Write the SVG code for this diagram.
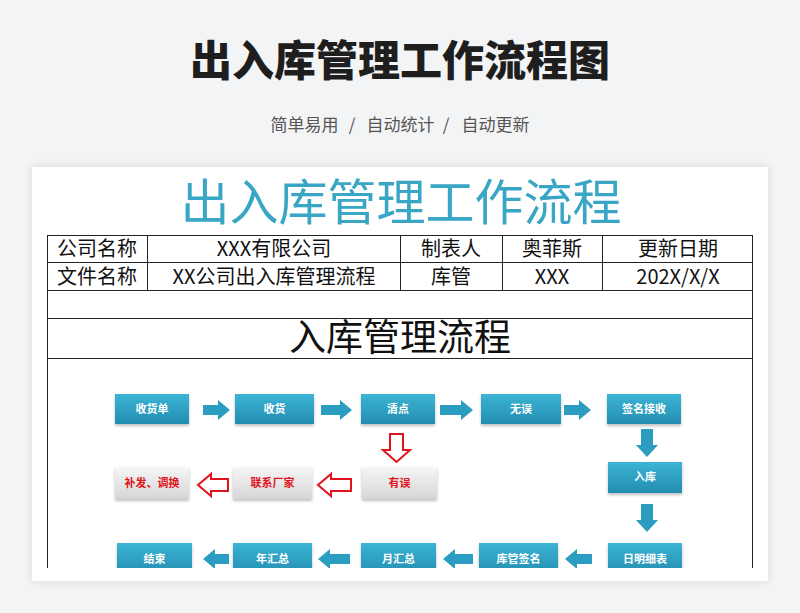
<svg xmlns="http://www.w3.org/2000/svg" width="800" height="613" viewBox="0 0 800 613">
<defs>
<style>
.cjk{font-family:"Noto Sans CJK SC","Noto Sans",sans-serif}
.cell{font-size:20px;fill:#111;text-anchor:middle}
.sub{font-size:17px;fill:#555;text-anchor:middle}
.bt{font-size:11px;font-weight:700;fill:#fff;text-anchor:middle}
.rt{font-size:11px;font-weight:700;fill:#e0141c;text-anchor:middle}
.blue{fill:url(#gb);filter:url(#sh)}
.gray{fill:url(#gg);filter:url(#sh)}
.ba{fill:#2a9dc0}
.ra{fill:#fff;stroke:#e0141c;stroke-width:2;stroke-linejoin:miter}
.tl{stroke:#222;stroke-width:1;fill:none}
</style>
<linearGradient id="gb" x1="0" y1="0" x2="0" y2="1">
<stop offset="0" stop-color="#3cb4d4"/>
<stop offset="1" stop-color="#238db0"/>
</linearGradient>
<linearGradient id="gg" x1="0" y1="0" x2="0" y2="1">
<stop offset="0" stop-color="#f6f6f6"/>
<stop offset="1" stop-color="#d6d6d6"/>
</linearGradient>
<filter id="sh" x="-10%" y="-20%" width="120%" height="150%">
<feDropShadow dx="0" dy="2" stdDeviation="1.5" flood-color="#000" flood-opacity="0.25"/>
</filter>
<filter id="cs" x="-5%" y="-5%" width="110%" height="110%">
<feDropShadow dx="0" dy="0" stdDeviation="5" flood-color="#000" flood-opacity="0.12"/>
</filter>
<clipPath id="cc"><rect x="32" y="167" width="736" height="401"/></clipPath>
</defs>
<rect width="800" height="613" fill="#f3f4f6"/>
<text class="cjk" x="400" y="76" font-size="42" font-weight="900" fill="#1e1e1e" text-anchor="middle">出入库管理工作流程图</text>
<g class="cjk sub">
<text x="304.5" y="131">简单易用</text>
<text x="352" y="131">/</text>
<text x="400.5" y="131">自动统计</text>
<text x="446" y="131">/</text>
<text x="495.5" y="131">自动更新</text>
</g>
<rect x="32" y="167" width="736" height="414" fill="#fff" filter="url(#cs)"/>
<text class="cjk" x="401" y="220" font-size="49" fill="#38a6c4" text-anchor="middle">出入库管理工作流程</text>
<g id="table" clip-path="url(#cc)">
<path class="tl" d="M47.5 235.5H752.5M47.5 262.5H752.5M47.5 290.5H752.5M47.5 318.5H752.5M47.5 358.5H752.5M47.5 235V600M752.5 235V600M147.5 235V290M400.5 235V290M502.5 235V290M602.5 235V290"/>
<g class="cjk cell">
<text x="97" y="256">公司名称</text>
<text x="274" y="256">XXX有限公司</text>
<text x="451" y="256">制表人</text>
<text x="552" y="256">奥菲斯</text>
<text x="678" y="256">更新日期</text>
<text x="97" y="284">文件名称</text>
<text x="274" y="284">XX公司出入库管理流程</text>
<text x="451" y="284">库管</text>
<text x="552" y="284">XXX</text>
<text x="678" y="284">202X/X/X</text>
</g>
<text class="cjk" x="400" y="351" font-size="37" fill="#111" text-anchor="middle">入库管理流程</text>
</g>
<g clip-path="url(#cc)">
<g id="connectors">
<polygon class="ba" points="203,405 218,405 218,400 230,410 218,420 218,415 203,415"/>
<polygon class="ba" points="321,405 340,405 340,400 352,410 340,420 340,415 321,415"/>
<polygon class="ba" points="440,405 461,405 461,400 473,410 461,420 461,415 440,415"/>
<polygon class="ba" points="564,405 579,405 579,400 591,410 579,420 579,415 564,415"/>
<polygon class="ba" points="641,429 653,429 653,445 658,445 647,457 636,445 641,445"/>
<polygon class="ba" points="641,504 653,504 653,520 658,520 647,532 636,520 641,520"/>
<polygon class="ba" points="592,554 577,554 577,549 565,559 577,569 577,564 592,564"/>
<polygon class="ba" points="473,554 455,554 455,549 443,559 455,569 455,564 473,564"/>
<polygon class="ba" points="350,554 330,554 330,549 318,559 330,569 330,564 350,564"/>
<polygon class="ba" points="229,554 215,554 215,549 203,559 215,569 215,564 229,564"/>
<polygon class="ra" points="390,434 403,434 403,450 410,450 396.5,462 383,450 390,450"/>
<polygon class="ra" points="351,479 331,479 331,474 318,485 331,496 331,491 351,491"/>
<polygon class="ra" points="228,479 211,479 211,474 198,485 211,496 211,491 228,491"/>
</g>
<g id="n1"><rect class="blue" x="115" y="394" width="74" height="30"/><text class="cjk bt" x="152" y="413">收货单</text></g>
<g id="n2"><rect class="blue" x="235" y="394" width="79" height="30"/><text class="cjk bt" x="274.5" y="413">收货</text></g>
<g id="n3"><rect class="blue" x="361" y="394" width="74" height="30"/><text class="cjk bt" x="398" y="413">清点</text></g>
<g id="n4"><rect class="blue" x="481" y="394" width="80" height="30"/><text class="cjk bt" x="521" y="413">无误</text></g>
<g id="n5"><rect class="blue" x="607" y="394" width="74" height="30"/><text class="cjk bt" x="644" y="413">签名接收</text></g>
<g id="n6"><rect class="blue" x="608" y="462" width="74" height="31"/><text class="cjk bt" x="645" y="481">入库</text></g>
<g id="n7"><rect class="blue" x="608" y="543" width="74" height="32"/><text class="cjk bt" x="645" y="563">日明细表</text></g>
<g id="n8"><rect class="blue" x="479" y="543" width="79" height="32"/><text class="cjk bt" x="518.5" y="563">库管签名</text></g>
<g id="n9"><rect class="blue" x="361" y="543" width="75" height="32"/><text class="cjk bt" x="398.5" y="563">月汇总</text></g>
<g id="n10"><rect class="blue" x="233" y="543" width="79" height="32"/><text class="cjk bt" x="272.5" y="563">年汇总</text></g>
<g id="n11"><rect class="blue" x="117" y="543" width="75" height="32"/><text class="cjk bt" x="154.5" y="563">结束</text></g>
<g id="n12"><rect class="gray" x="362" y="467" width="75" height="32"/><text class="cjk rt" x="399.5" y="487">有误</text></g>
<g id="n13"><rect class="gray" x="233" y="467" width="79" height="32"/><text class="cjk rt" x="272.5" y="487">联系厂家</text></g>
<g id="n14"><rect class="gray" x="115" y="467" width="74" height="32"/><text class="cjk rt" x="152" y="487">补发、调换</text></g>
</g>
</svg>
